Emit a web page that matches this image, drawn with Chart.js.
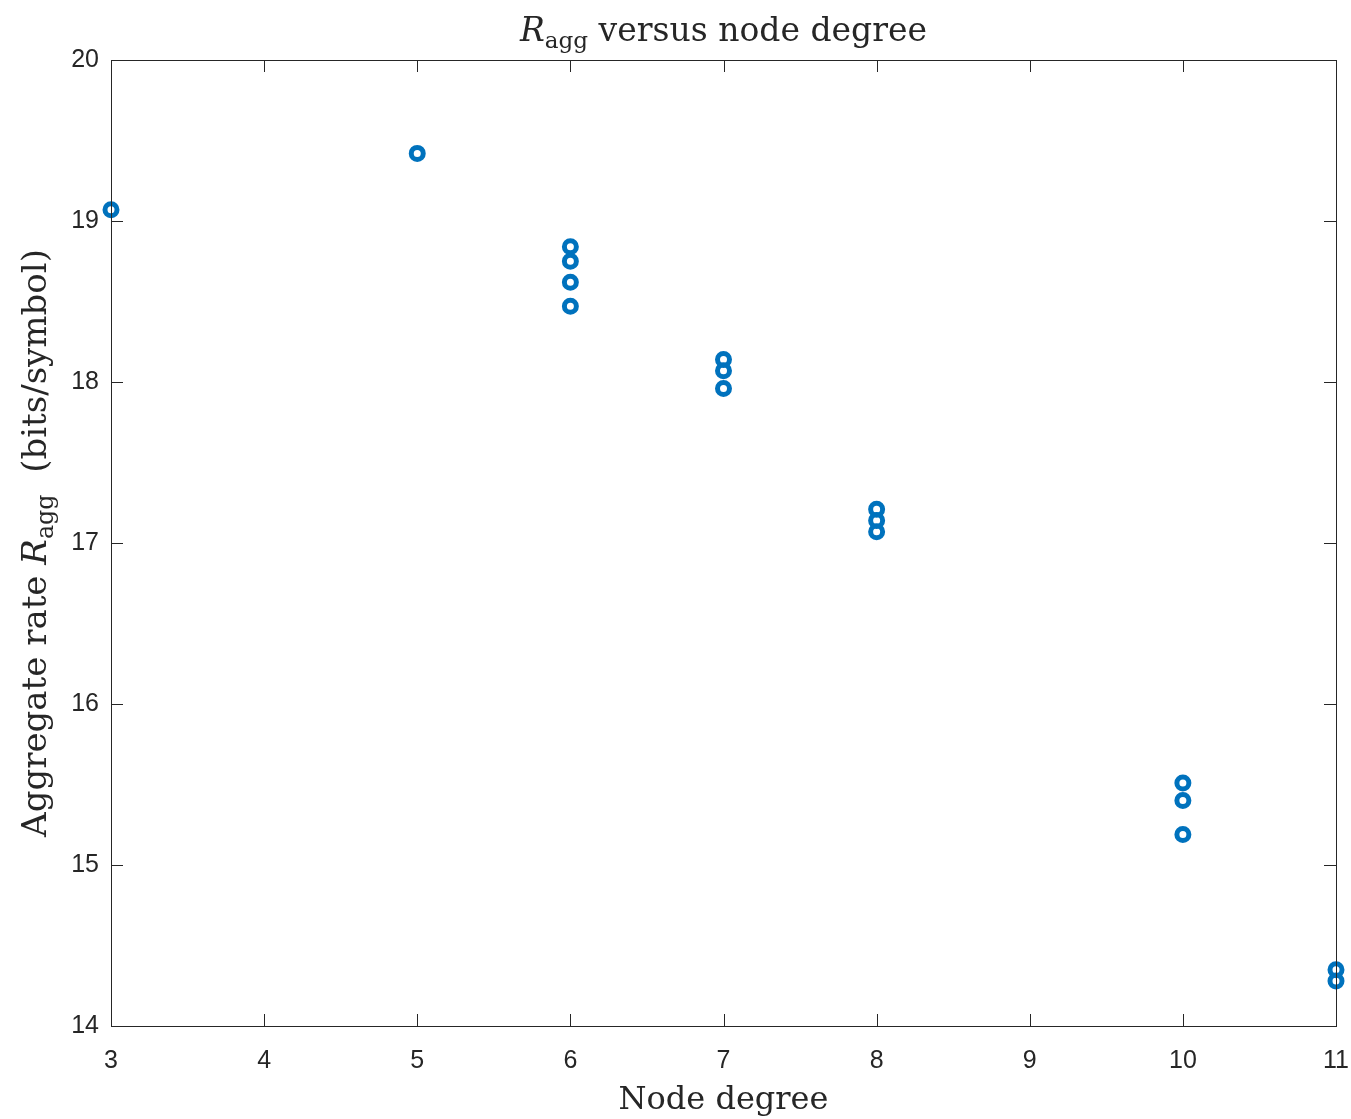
<!DOCTYPE html>
<html>
<head>
<meta charset="utf-8">
<script src="https://cdn.jsdelivr.net/npm/chart.js@4.4.1/dist/chart.umd.min.js"></script>
<style>
  html, body { margin: 0; padding: 0; background: #fff; }
  #wrap { width: 1351px; height: 1119px; }
</style>
</head>
<body>
<div id="wrap"><canvas id="scatter"></canvas></div>
<script>
// Node degree of each sample and its aggregate rate (bits/symbol)
const nodeDegree = [3, 5, 6, 6, 6, 6, 7, 7, 7, 8, 8, 8, 10, 10, 10, 11, 11];
const aggRate = [19.07, 19.42, 18.84, 18.75, 18.62, 18.47, 18.14, 18.07, 17.96,
                 17.21, 17.14, 17.07, 15.51, 15.40, 15.19, 14.35, 14.28];
const xTicks = [3, 4, 5, 6, 7, 8, 9, 10, 11];
const yTicks = [14, 15, 16, 17, 18, 19, 20];

const serif = '"DejaVu Serif", "Liberation Serif", serif';
const sans = '"Liberation Sans", Arial, sans-serif';

// draws "R_agg" style text: main part, then a lowered smaller subscript, then rest
function drawSubText(ctx, parts, size) {
  let w = 0;
  const widths = parts.map(p => {
    ctx.font = (p.italic ? 'italic ' : '') + (p.sub ? size * 0.7 : size) + 'px ' + serif;
    const m = ctx.measureText(p.t).width;
    w += m;
    return m;
  });
  let x = -w / 2;
  parts.forEach((p, i) => {
    ctx.font = (p.italic ? 'italic ' : '') + (p.sub ? size * 0.7 : size) + 'px ' + serif;
    ctx.fillText(p.t, x, p.sub ? size * 0.22 : 0);
    x += widths[i];
  });
}

const framePlugin = {
  id: 'frame',
  afterDraw(chart) {
    const { ctx, chartArea: a, scales } = chart;
    ctx.save();
    ctx.strokeStyle = '#262626';
    ctx.lineWidth = 1;
    ctx.strokeRect(a.left + 0.5, a.top + 0.5, a.right - a.left, a.bottom - a.top);
    const tl = 12;
    ctx.beginPath();
    xTicks.forEach(v => {
      const px = Math.round(scales.x.getPixelForValue(v)) + 0.5;
      ctx.moveTo(px, a.bottom); ctx.lineTo(px, a.bottom - tl);
      ctx.moveTo(px, a.top); ctx.lineTo(px, a.top + tl);
    });
    yTicks.forEach(v => {
      const py = Math.round(scales.y.getPixelForValue(v)) + 0.5;
      ctx.moveTo(a.left, py); ctx.lineTo(a.left + tl, py);
      ctx.moveTo(a.right, py); ctx.lineTo(a.right - tl, py);
    });
    ctx.stroke();

    ctx.fillStyle = '#262626';
    ctx.textBaseline = 'alphabetic';
    // title
    ctx.save();
    ctx.translate((a.left + a.right) / 2, 41);
    drawSubText(ctx, [{ t: 'R', italic: true }, { t: 'agg', sub: true }, { t: ' versus node degree' }], 33);
    ctx.restore();
    // x label
    ctx.save();
    ctx.translate((a.left + a.right) / 2, 1109);
    drawSubText(ctx, [{ t: 'Node degree' }], 32);
    ctx.restore();
    // y label
    ctx.save();
    ctx.translate(46, (a.top + a.bottom) / 2);
    ctx.rotate(-Math.PI / 2);
    drawSubText(ctx, [{ t: 'Aggregate rate ' }, { t: 'R', italic: true }, { t: 'agg', sub: true }, { t: '  (bits/symbol)' }], 34);
    ctx.restore();
    ctx.restore();
  }
};

new Chart(document.getElementById('scatter'), {
  type: 'scatter',
  data: {
    datasets: [{
      data: nodeDegree.map((d, i) => ({ x: d, y: aggRate[i] })),
      borderColor: '#0072BD',
      backgroundColor: 'rgba(0,0,0,0)',
      pointRadius: 6,
      pointBorderWidth: 5,
      pointHoverRadius: 6
    }]
  },
  options: {
    responsive: true,
    maintainAspectRatio: false,
    animation: false,
    clip: false,
    layout: { padding: { top: 60, right: 15, left: 0, bottom: 0 } },
    plugins: { legend: { display: false }, tooltip: { enabled: false } },
    scales: {
      x: {
        type: 'linear', min: 3, max: 11,
        afterBuildTicks: s => { s.ticks = xTicks.map(v => ({ value: v })); },
        afterFit: s => { s.height = 93; s.paddingLeft = 0; s.paddingRight = 0; },
        grid: { display: false },
        border: { display: false },
        ticks: { color: '#262626', font: { family: sans, size: 25 }, padding: 12 }
      },
      y: {
        type: 'linear', min: 14, max: 20,
        afterBuildTicks: s => { s.ticks = yTicks.map(v => ({ value: v })); },
        afterFit: s => { s.width = 111; s.paddingTop = 0; s.paddingBottom = 0; },
        grid: { display: false },
        border: { display: false },
        ticks: { color: '#262626', font: { family: sans, size: 25 }, padding: 4 }
      }
    }
  },
  plugins: [framePlugin]
});
</script>
</body>
</html>
